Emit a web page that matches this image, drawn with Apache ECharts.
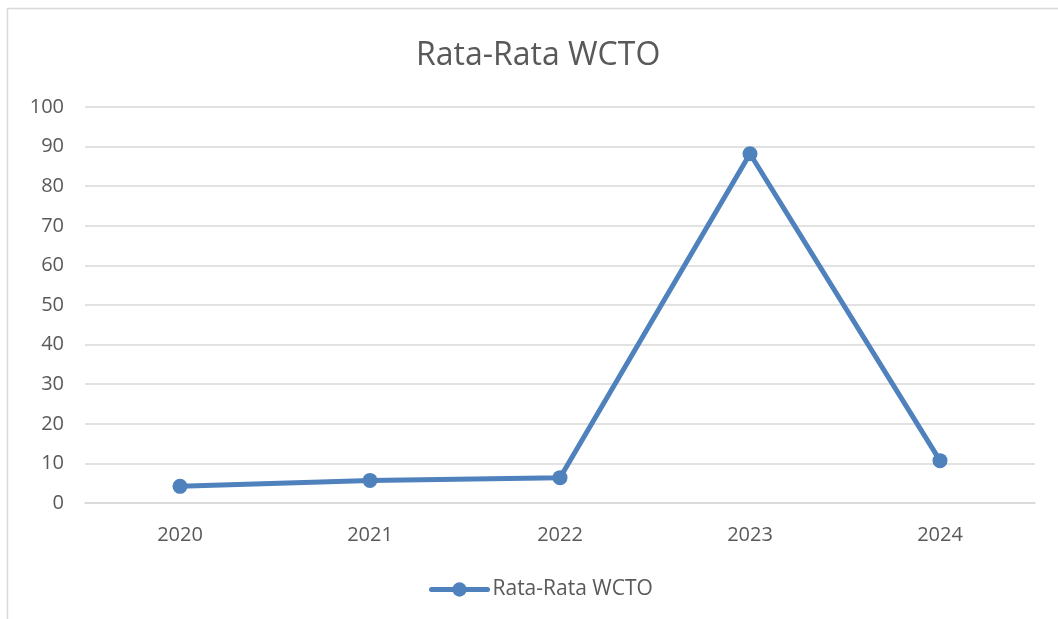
<!DOCTYPE html>
<html>
<head>
<meta charset="utf-8">
<script src="https://cdn.jsdelivr.net/npm/echarts@6/dist/echarts.min.js"></script>
<style>
  html, body { margin: 0; padding: 0; background: #fff; }
  #main { width: 1058px; height: 619px; }
</style>
</head>
<body>
<div id="main"></div>
<script>
// chart data
const years = ['2020', '2021', '2022', '2023', '2024'];
const wctoValues = [4.2, 5.7, 6.4, 88.2, 10.7];
const yTicks = { min: 0, max: 100, step: 10 };

const chart = echarts.init(document.getElementById('main'));
const textColor = '#595959';
const lineColor = '#4f81bd';

chart.setOption({
  backgroundColor: '#fff',
  animation: false,
  title: {
    text: 'Rata-Rata WCTO',
    left: 411,
    top: 35,
    textStyle: { fontFamily: 'Open Sans', fontWeight: 'normal', fontSize: 32, color: textColor }
  },
  graphic: [{
    type: 'rect',
    shape: { x: 7.5, y: 8.5, width: 1060, height: 620 },
    style: { fill: 'none', stroke: '#d9d9d9', lineWidth: 1.5 },
    silent: true
  }],
  legend: {
    bottom: 14,
    left: 424,
    itemWidth: 56,
    itemHeight: 18,
    itemGap: 4,
    lineStyle: { width: 5, cap: 'round' },
    textStyle: { fontFamily: 'Open Sans', fontSize: 21, color: textColor },
    data: ['Rata-Rata WCTO']
  },
  grid: { left: 85, right: 23, top: 107, bottom: 116 },
  xAxis: {
    type: 'category',
    data: years,
    boundaryGap: true,
    axisLine: { show: true, lineStyle: { color: '#d9d9d9', width: 1.5 } },
    axisTick: { show: false },
    axisLabel: { fontFamily: 'Open Sans', fontSize: 20, color: textColor, margin: 22 }
  },
  yAxis: {
    type: 'value',
    min: yTicks.min,
    max: yTicks.max,
    interval: yTicks.step,
    axisLine: { show: false },
    axisTick: { show: false },
    axisLabel: { fontFamily: 'Open Sans', fontSize: 20, color: textColor, margin: 21 },
    splitLine: { lineStyle: { color: '#d9d9d9', width: 1.5 } }
  },
  series: [{
    name: 'Rata-Rata WCTO',
    type: 'line',
    data: wctoValues,
    symbol: 'circle',
    symbolSize: 15,
    itemStyle: { color: lineColor },
    lineStyle: { color: lineColor, width: 5 }
  }]
});
</script>
</body>
</html>
